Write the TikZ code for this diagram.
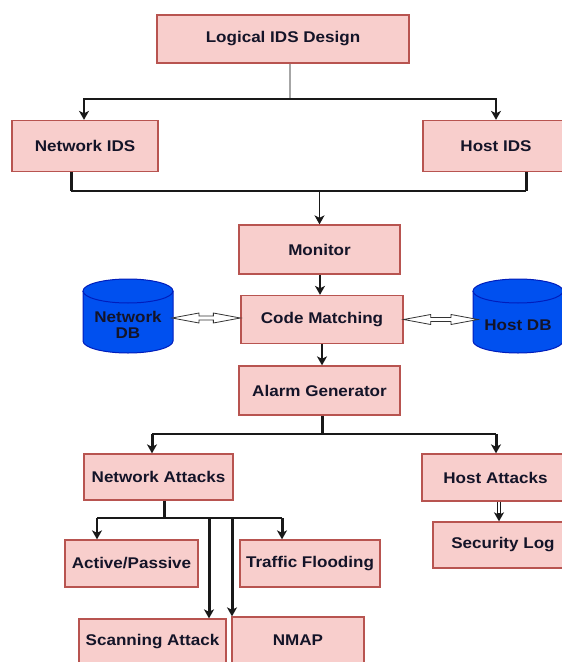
\documentclass[tikz,border=0pt]{standalone}
\usepackage{fontspec}
\setmainfont{Liberation Sans}[FakeStretch=1.1]
\usetikzlibrary{arrows.meta,calc}
\definecolor{boxfill}{HTML}{F8CECC}
\definecolor{boxline}{HTML}{B85450}
\definecolor{dbfill}{HTML}{0050EF}
\definecolor{dbline}{HTML}{001DBC}
\definecolor{txt}{RGB}{20,20,40}
\tikzset{
  box/.style={draw=boxline, fill=boxfill, line width=1.3bp, inner sep=0pt,
    font=\bfseries\fontsize{15.5bp}{18bp}\selectfont, text=txt, align=center},
  dbtext/.style={inner sep=0pt, font=\bfseries\fontsize{15.5bp}{16bp}\selectfont,
    text=txt, align=center},
  dbshape/.style={fill=dbfill, draw=dbline, line width=1bp},
  tip/.style={-{Stealth[length=9bp,width=10bp,inset=2.5bp]}},
  conn/.style={line width=1.6bp, black!90},
  stem/.style={line width=3bp, black!90},
  hline/.style={line width=2bp, black!90},
  graystem/.style={line width=1.6bp, gray!70},
  thinline/.style={line width=0.9bp, black!90},
  flex/.style={draw=black!80, fill=white, line width=0.8bp, line join=miter},
}
\newcommand{\hollowarrow}[2]{%
  \draw[flex] let \p1=(#1), \p2=(#2) in
    (\x1,\y1) -- (\x1+27bp,\y1+5bp) -- (\x1+27bp,\y1+2bp) -- (\x2-27bp,\y1+2bp)
    -- (\x2-27bp,\y1+5bp) -- (\x2,\y1) -- (\x2-27bp,\y1-5bp) -- (\x2-27bp,\y1-2bp)
    -- (\x1+27bp,\y1-2bp) -- (\x1+27bp,\y1-5bp) -- cycle;}
\begin{document}
\begin{tikzpicture}[x=1bp,y=-1bp]
\useasboundingbox (0,0) rectangle (562,662);
\clip (0,0) rectangle (562,662);

% process boxes
\node[box, minimum width=252bp, minimum height=48bp] (lids) at (283,39) {Logical IDS Design};
\node[box, minimum width=146bp, minimum height=51bp] (nids) at (85,146) {Network IDS};
\node[box, minimum width=146bp, minimum height=51bp] (hids) at (496,146) {Host IDS};
\node[box, minimum width=161bp, minimum height=49bp] (mon) at (319.5,249.5) {Monitor};
\node[box, minimum width=162bp, minimum height=48bp] (cm) at (322,319.5) {Code Matching};
\node[box, minimum width=161bp, minimum height=49bp] (ag) at (319.5,390.5) {Alarm Generator};
\node[box, minimum width=149bp, minimum height=46bp] (na) at (158.5,477) {Network Attacks};
\node[box, minimum width=147bp, minimum height=47bp] (ha) at (495.5,477.5) {Host Attacks};
\node[box, minimum width=140bp, minimum height=46bp] (sl) at (503,545) {Security Log};
\node[box, minimum width=133bp, minimum height=47bp] (ap) at (131.5,563.5) {Active/Passive};
\node[box, minimum width=140bp, minimum height=47bp] (tf) at (310,563.5) {Traffic Flooding};
\node[box, minimum width=147bp, minimum height=46bp] (sa) at (152.5,642) {Scanning Attack};
\node[box, minimum width=132bp, minimum height=46bp] (nmap) at (298,640) {NMAP};

% database cylinders
\path[dbshape] (83,291) -- (83,341) arc (180:360:45bp and 12bp) -- (173,291)
  arc (0:180:45bp and 12bp) -- cycle;
\draw[dbline, line width=1bp] (83,291) arc (180:360:45bp and 12bp);
\path[dbshape] (473,291) -- (473,341) arc (180:360:45bp and 12bp) -- (563,291)
  arc (0:180:45bp and 12bp) -- cycle;
\draw[dbline, line width=1bp] (473,291) arc (180:360:45bp and 12bp);
\node[dbtext] (ndb) at (128,325) {Network\\DB};
\node[dbtext] (hdb) at (518,325) {Host DB};
\coordinate (ndbe) at (172,318);
\coordinate (hdbw) at (478,318);

% design -> network / host IDS
\coordinate (j1) at (290,99);
\draw[graystem] (lids.south -| j1) -- (j1);
\draw[conn] (84,99) -- (496,99);
\draw[conn,tip] (j1) -| ([xshift=-1bp]nids.north);
\draw[conn,tip] (j1) -| (hids.north);

% network / host IDS -> monitor
\coordinate (c1) at (71,191);
\coordinate (c2) at (526,191);
\draw[stem] (nids.south -| c1) -- (c1);
\draw[stem] (hids.south -| c2) -- (c2);
\draw[hline] (c1) -- (c2);
\draw[conn,tip] (mon.north |- c1) -- (mon.north);

% monitor -> code matching -> alarm generator
\draw[line width=2.4bp, black!90, tip] ([xshift=0.5bp]mon.south) -- ([xshift=0.5bp]mon.south |- cm.north);
\draw[line width=2.4bp, black!90, tip] (cm.south) -- (cm.south |- ag.north);

% databases <-> code matching
\hollowarrow{ndbe}{cm.west}
\hollowarrow{cm.east}{hdbw}

% alarm generator -> attacks
\coordinate (j3) at (322,434);
\coordinate (c3) at (152,434);
\coordinate (c4) at (496,434);
\draw[stem] (ag.south -| j3) -- (j3);
\draw[hline] (c3) -- (c4);
\draw[stem,tip] (c3) -- (na.north -| c3);
\draw[stem,tip] (c4) -- (ha.north -| c4);

% host attacks -> security log
\coordinate (c6) at (499,511);
\draw[thinline] ([xshift=-1.6bp]ha.south -| c6) -- ([xshift=-1.6bp,yshift=4bp]sl.north -| c6);
\draw[thinline] ([xshift=1.6bp]ha.south -| c6) -- ([xshift=1.6bp,yshift=4bp]sl.north -| c6);
\draw[conn,tip] ([yshift=8bp]sl.north -| c6) -- (sl.north -| c6);

% network attacks -> sub-types
\coordinate (j5) at (164,518);
\coordinate (c7) at (97,518);
\coordinate (c8) at (282,518);
\coordinate (c9) at (209,518);
\coordinate (c10) at (232,518);
\draw[stem] (na.south -| j5) -- (j5);
\draw[hline] (c7) -- (c8);
\draw[conn,tip] (c7) -- (ap.north -| c7);
\draw[stem,tip] (c8) -- (tf.north -| c8);
\draw[stem,tip] (c9) -- (sa.north -| c9);
\draw[stem,tip] (c10) -- (nmap.north -| c10);
\end{tikzpicture}
\end{document}
